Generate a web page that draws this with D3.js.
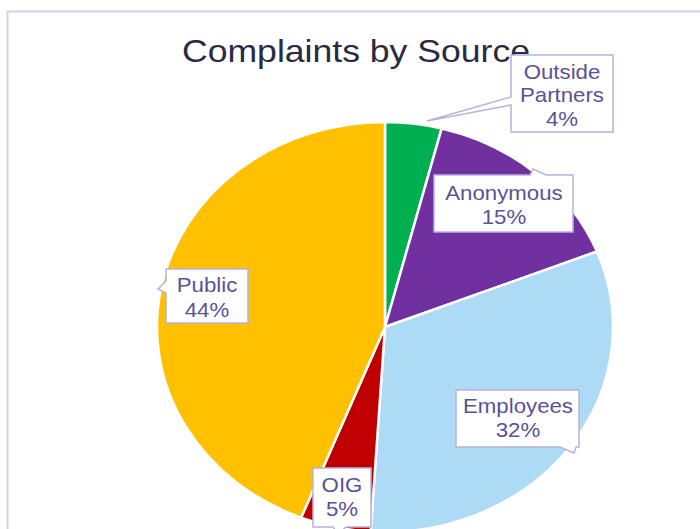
<!DOCTYPE html>
<html>
<head>
<meta charset="utf-8">
<script src="https://cdn.jsdelivr.net/npm/d3@7"></script>
<style>
  body { margin: 0; background: #fff; }
  svg { display: block; }
</style>
</head>
<body>
<svg id="chart" width="700" height="529"></svg>
<script>
// chart data
const categories = ["Outside Partners", "Anonymous", "Employees", "OIG", "Public"];
const values = [4, 15, 32, 5, 44];
const colors = ["#00B050", "#7030A0", "#ADDBF5", "#C00000", "#FFC000"];
const labelLines = [["Outside", "Partners", "4%"], ["Anonymous", "15%"], ["Employees", "32%"], ["OIG", "5%"], ["Public", "44%"]];

// callout layout, pixel coords (box + pointer)
const callouts = [
    {box: [511, 55, 613, 132], side: "left", base: [97, 105], tip: [427, 121], text: [562, 79], lh: 23.5},
    {box: [434, 175, 573, 232], side: "top", base: [530, 546], tip: [533, 169], text: [504, 200], lh: 24.5},
    {box: [456, 390, 579, 447], side: "bottom", base: [560, 576], tip: [574, 453], text: [518, 413], lh: 24.5},
    {box: [313, 468, 371, 527], side: "bottom", base: [333, 346], tip: [338, 534], text: [342, 492], lh: 24},
    {box: [166, 269, 248, 323], side: "left", base: [281, 293], tip: [158, 289], text: [207, 292], lh: 25}
];

const W = 700, H = 529;
const cxPx = 385, cyPx = 327, rx = 228, ry = 205;
const sx = rx / ry;   // whole picture is stretched sideways
const X = px => px / sx;

const svg = d3.select("#chart");

// outer frame
svg.append("rect")
    .attr("x", 7.5).attr("y", 11.5)
    .attr("width", W).attr("height", H)
    .style("fill", "none")
    .style("stroke", "#D3D0EA")
    .style("stroke-width", 2);

const g = svg.append("g").attr("transform", "scale(" + sx + ",1)");

// title
g.append("text")
    .attr("x", X(356))
    .attr("y", 62)
    .attr("text-anchor", "middle")
    .style("font-family", "'Liberation Sans', Arial, sans-serif")
    .style("font-size", "32px")
    .style("fill", "#2A2A44")
    .text("Complaints by Source");

// pie
const pie = d3.pie().sort(null).value(d => d.value);
const arc = d3.arc().innerRadius(0).outerRadius(ry);
const data = categories.map((c, i) => ({name: c, value: values[i], color: colors[i]}));

g.append("g")
    .attr("transform", "translate(" + X(cxPx) + "," + cyPx + ")")
    .selectAll("path")
    .data(pie(data))
    .join("path")
    .attr("d", arc)
    .style("fill", d => d.data.color)
    .style("stroke", "#fff")
    .style("stroke-width", 2.5)
    .attr("vector-effect", "non-scaling-stroke");

// callout boxes
function calloutPath(c) {
    let [x0, y0, x1, y1] = c.box;
    let pts = [[x0, y0]];
    if (c.side === "top") pts.push([c.base[0], y0], c.tip, [c.base[1], y0]);
    pts.push([x1, y0], [x1, y1]);
    if (c.side === "bottom") pts.push([c.base[1], y1], c.tip, [c.base[0], y1]);
    pts.push([x0, y1]);
    if (c.side === "left") pts.push([x0, c.base[1]], c.tip, [x0, c.base[0]]);
    return "M" + pts.map(p => X(p[0]) + "," + p[1]).join("L") + "Z";
}

const labels = g.selectAll(".callout").data(callouts).join("g").attr("class", "callout");

labels.append("path")
    .attr("d", calloutPath)
    .style("fill", "#fff")
    .style("stroke", "#B7B3DA")
    .style("stroke-width", 1.5)
    .attr("vector-effect", "non-scaling-stroke");

labels.each(function (c, i) {
    let t = d3.select(this).append("text")
        .attr("text-anchor", "middle")
        .style("font-family", "'Liberation Sans', Arial, sans-serif")
        .style("font-size", "20px")
        .style("fill", "#5A5196");
    labelLines[i].forEach((line, j) => {
        t.append("tspan")
            .attr("x", X(c.text[0]))
            .attr("y", c.text[1] + j * c.lh)
            .text(line);
    });
});
</script>
</body>
</html>
